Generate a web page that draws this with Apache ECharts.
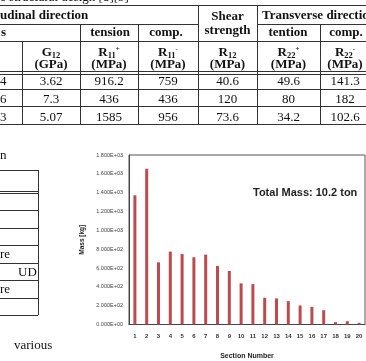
<!DOCTYPE html>
<html>
<head>
<meta charset="utf-8">
<script src="https://cdn.jsdelivr.net/npm/echarts@6/dist/echarts.min.js"></script>
<style>
  html, body { margin: 0; padding: 0; background: #fff; }
  #page { position: relative; width: 366px; height: 361px; overflow: hidden;
          font-family: "Liberation Serif", "DejaVu Serif", serif; color: #111; }
  #chart { position: absolute; left: 0; top: 0; width: 366px; height: 361px; }
  .t { position: absolute; white-space: nowrap; line-height: 14px; font-size: 13px; }
  .b { font-weight: bold; }
  .hl { position: absolute; height: 0; border-top: 1px solid #333; }
  .vl { position: absolute; width: 0; border-left: 1px solid #333; }
  .sb { font-size: 8.5px; position: relative; top: 2px; }
  .sp { font-size: 7px; position: relative; top: -5px; }
</style>
</head>
<body>
<div id="page">
  <div id="chart"></div>
</div>
<script>
// bar chart data
var sections = ['1', '2', '3', '4', '5', '6', '7', '8', '9', '10',
                '11', '12', '13', '14', '15', '16', '17', '18', '19', '20'];
var massKg = [1372, 1654, 660, 774, 749, 714, 742, 621, 568, 437,
              429, 284, 277, 248, 202, 188, 152, 25, 35, 18];
var totalLabel = 'Total Mass: 10.2 ton';

// top table (material properties)
var headRow1 = ['udinal direction', 'Shear', 'strength', 'Transverse direction'];
var headRow2 = ['s', 'tension', 'comp.', 'tention', 'comp.'];
var headSymbols = [['G', '12', ''], ['R', '11', '+'], ['R', '11', '-'],
                   ['R', '12', ''], ['R', '22', '+'], ['R', '22', '-']];
var headUnits = ['(GPa)', '(MPa)', '(MPa)', '(MPa)', '(MPa)', '(MPa)'];
var tableRows = [
  ['4', '3.62', '916.2', '759', '40.6', '49.6', '141.3'],
  ['6', '7.3', '436', '436', '120', '80', '182'],
  ['3', '5.07', '1585', '956', '73.6', '34.2', '102.6']
];
// left table fragment
var leftCells = ['re', 'UD', 're'];

var page = document.getElementById('page');

function txt(html, cx, cy, cls, align) {
  var d = document.createElement('div');
  d.className = 't ' + (cls || '');
  d.innerHTML = html;
  d.style.top = (cy - 7) + 'px';
  if (align === 'left') {
    d.style.left = cx + 'px';
  } else {
    d.style.left = (cx - 60) + 'px';
    d.style.width = '120px';
    d.style.textAlign = 'center';
  }
  page.appendChild(d);
}
function hline(x1, x2, y) {
  var d = document.createElement('div');
  d.className = 'hl';
  d.style.left = x1 + 'px'; d.style.width = (x2 - x1) + 'px'; d.style.top = y + 'px';
  page.appendChild(d);
}
function vline(x, y1, y2) {
  var d = document.createElement('div');
  d.className = 'vl';
  d.style.left = x + 'px'; d.style.top = y1 + 'px'; d.style.height = (y2 - y1) + 'px';
  page.appendChild(d);
}

// caption above (cut by the page edge)
txt('e structural design [8][9]', 0, -3, '', 'left');

// table grid
var colX = [21.5, 80, 138, 198, 257, 320];
var colC = [51, 109, 168, 227.5, 288.5, 345];
hline(0, 366, 5);
hline(0, 198, 24); hline(257, 366, 24);
hline(0, 366, 40.5);
hline(0, 366, 71); hline(0, 366, 73.5);
hline(0, 366, 88.5);
hline(0, 366, 106);
hline(0, 366, 124);
vline(colX[0], 40.5, 124);
vline(colX[1], 24, 124);
vline(colX[2], 24, 124);
vline(colX[3], 5, 124);
vline(colX[4], 5, 124);
vline(colX[5], 24, 124);

txt(headRow1[0], 0, 15, 'b', 'left');
txt(headRow1[1], 227.5, 16, 'b');
txt(headRow1[2], 227.5, 30, 'b');
txt(headRow1[3], 262, 15, 'b', 'left');
txt(headRow2[0], 1, 32, 'b', 'left');
txt(headRow2[1], 110, 32, 'b');
txt(headRow2[2], 166, 32, 'b');
txt(headRow2[3], 288, 32, 'b');
txt(headRow2[4], 346, 32, 'b');
headSymbols.forEach(function (s, i) {
  var html = s[0] + '<span class="sb">' + s[1] + '</span>' +
             (s[2] ? '<span class="sp">' + s[2] + '</span>' : '');
  txt(html, colC[i], 51.5, 'b');
  txt(headUnits[i], colC[i], 63.5, 'b');
});
tableRows.forEach(function (row, r) {
  var cy = 81 + r * 17.8;
  txt(row[0], 0, cy, '', 'left');
  for (var i = 1; i < row.length; i++) txt(row[i], colC[i - 1], cy);
});

// left table fragment
txt('n', 0, 155, '', 'left');
var leftY = [170, 190.5, 209.5, 227.5, 245, 262.5, 280, 298, 315];
leftY.forEach(function (y) { hline(0, 38, y); });
hline(0, 38, 192.5);
vline(38, 170, 315);
txt(leftCells[0], 0, 254, '', 'left');
txt(leftCells[1], 18, 272, '', 'left');
txt(leftCells[2], 0, 289, '', 'left');
txt('various', 14, 345, '', 'left');

function sci(v) {
  var s = Number(v).toExponential(3).toUpperCase();
  var parts = s.split('E');
  var e = parseInt(parts[1], 10);
  var es = (e < 0 ? '-' : '+') + (Math.abs(e) < 10 ? '0' : '') + Math.abs(e);
  return parts[0] + 'E' + es;
}

var chart = echarts.init(document.getElementById('chart'));
chart.setOption({
  animation: false,
  grid: {
    left: 129, top: 155, right: 1, bottom: 36.5,
    show: true, borderColor: '#555', borderWidth: 1
  },
  xAxis: {
    type: 'category',
    data: sections,
    axisTick: { show: false },
    axisLine: { lineStyle: { color: '#444' } },
    axisLabel: { interval: 0, fontSize: 6, fontWeight: 'bold', color: '#333', margin: 9,
                 fontFamily: 'Liberation Sans' },
    name: 'Section Number',
    nameLocation: 'middle',
    nameGap: 28,
    nameTextStyle: { fontSize: 7, fontWeight: 'bold', color: '#222', fontFamily: 'Liberation Sans' }
  },
  yAxis: {
    type: 'value',
    min: 0, max: 1800, interval: 200,
    splitLine: { show: false },
    axisLine: { show: true, lineStyle: { color: '#444' } },
    axisTick: { show: false },
    axisLabel: { fontSize: 5.5, color: '#444', margin: 6, formatter: sci,
                 fontFamily: 'Liberation Sans' },
    name: 'Mass [kg]',
    nameLocation: 'middle',
    nameGap: 40,
    nameTextStyle: { fontSize: 6.5, fontWeight: 'bold', color: '#222', fontFamily: 'Liberation Sans' }
  },
  series: [{
    type: 'bar',
    data: massKg,
    barWidth: 3,
    itemStyle: { color: '#bd4b4e' }
  }],
  graphic: [{
    type: 'text',
    left: 253, top: 187,
    style: { text: totalLabel, font: 'bold 11px "Liberation Sans"', fill: '#222' }
  }]
});
</script>
</body>
</html>
